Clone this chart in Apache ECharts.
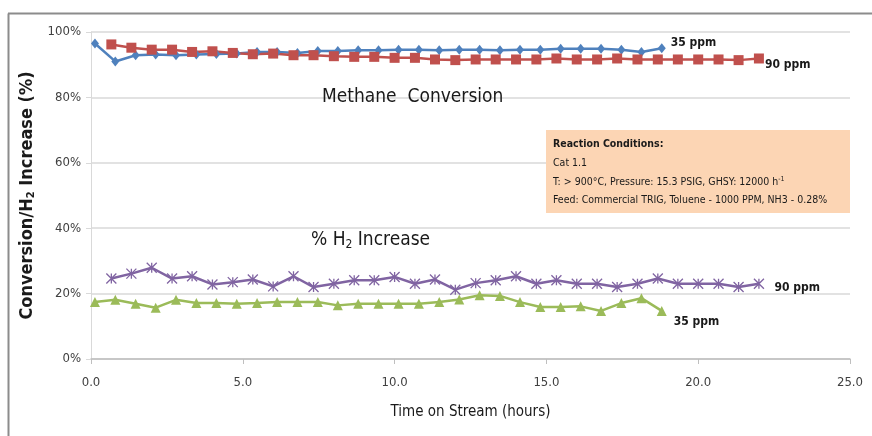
<!DOCTYPE html>
<html>
<head>
<meta charset="utf-8">
<script src="https://cdn.jsdelivr.net/npm/echarts@6/dist/echarts.min.js"></script>
<style>html,body{margin:0;padding:0;background:#fff}#c{width:872px;height:436px}</style>
</head>
<body>
<div id="c"></div>
<script>
// ---- data (time on stream in hours, values in %) ----
var time35 = [0.13, 0.8, 1.47, 2.13, 2.8, 3.47, 4.13, 4.8, 5.47, 6.13, 6.8, 7.47, 8.13, 8.8, 9.47,
  10.13, 10.8, 11.47, 12.13, 12.8, 13.47, 14.13, 14.8, 15.47, 16.13, 16.8, 17.47, 18.13, 18.8];
var time90 = [0.67, 1.33, 2.0, 2.67, 3.33, 4.0, 4.67, 5.33, 6.0, 6.67, 7.33, 8.0, 8.67, 9.33, 10.0,
  10.67, 11.33, 12.0, 12.67, 13.33, 14.0, 14.67, 15.33, 16.0, 16.67, 17.33, 18.0, 18.67, 19.33,
  20.0, 20.67, 21.33, 22.0];
var conv35 = [96.5, 91.0, 92.9, 93.1, 92.9, 93.1, 93.3, 93.4, 93.9, 93.9, 93.6, 94.2, 94.2, 94.4, 94.4,
  94.6, 94.6, 94.4, 94.6, 94.6, 94.4, 94.6, 94.6, 94.9, 94.9, 94.9, 94.6, 93.9, 95.0];
var conv90 = [96.2, 95.2, 94.6, 94.6, 93.9, 94.1, 93.6, 93.2, 93.4, 92.9, 92.9, 92.6, 92.4, 92.4, 92.1,
  92.1, 91.6, 91.4, 91.6, 91.6, 91.6, 91.6, 91.9, 91.6, 91.6, 91.9, 91.6, 91.6, 91.6, 91.6,
  91.6, 91.4, 91.9];
var h2inc90 = [24.6, 26.1, 27.9, 24.6, 25.3, 22.8, 23.5, 24.3, 22.2, 25.3, 22.0, 23.0, 24.1, 24.1, 25.1,
  23.0, 24.3, 21.2, 23.2, 24.1, 25.3, 23.0, 24.1, 23.0, 23.0, 22.0, 23.0, 24.6, 23.0, 23.0,
  23.0, 22.0, 23.0];
var h2inc35 = [17.4, 18.1, 16.9, 15.7, 18.1, 17.1, 17.1, 16.9, 17.1, 17.4, 17.4, 17.4, 16.4, 16.9, 16.9,
  16.9, 16.9, 17.4, 18.2, 19.5, 19.3, 17.4, 15.9, 15.9, 16.1, 14.7, 17.1, 18.6, 14.7];
var seriesNames = ['Conversion 35 ppm', 'Conversion 90 ppm', 'H2 Increase 90 ppm', 'H2 Increase 35 ppm'];
var endLabels = ['35 ppm', '90 ppm', '90 ppm', '35 ppm'];
var xTicks = {min: 0, max: 25, interval: 5};
var yTicks = {min: 0, max: 100, interval: 20};

var FONT = "'Liberation Sans Narrow', 'DejaVu Sans Condensed', 'Liberation Sans', sans-serif";
var BLUE = '#4F81BD', RED = '#C0504D', PURPLE = '#8064A2', GREEN = '#9BBB59';

function build(xs, ys, label, offset) {
  return xs.map(function (x, i) {
    if (i === xs.length - 1) {
      return {value: [x, ys[i]], label: {show: true, position: 'right', formatter: label, offset: offset,
        fontFamily: FONT, fontSize: 12, fontWeight: 'bold', color: '#1a1a1a'}};
    }
    return [x, ys[i]];
  });
}

var chart = echarts.init(document.getElementById('c'), null, {renderer: 'canvas'});
chart.setOption({
  animation: false,
  backgroundColor: '#ffffff',
  grid: {left: 91, right: 22, top: 32, bottom: 77, containLabel: false},
  xAxis: {
    type: 'value', min: xTicks.min, max: xTicks.max, interval: xTicks.interval,
    name: 'Time on Stream (hours)', nameLocation: 'middle', nameGap: 46,
    nameTextStyle: {fontFamily: FONT, fontSize: 15, color: '#1a1a1a'},
    axisLine: {show: true, lineStyle: {color: '#BFBFBF', width: 1.5}},
    axisTick: {show: true, length: 5, lineStyle: {color: '#BFBFBF'}},
    axisLabel: {fontFamily: FONT, fontSize: 13, color: '#404040', margin: 17,
      formatter: function (v) { return v.toFixed(1); }},
    splitLine: {show: false}
  },
  yAxis: {
    type: 'value', min: yTicks.min, max: yTicks.max, interval: yTicks.interval,
    name: '{a|Conversion/H}{s|2}{a| Increase (%)}', nameLocation: 'middle', nameGap: 50, nameRotate: 90,
    nameTextStyle: {rich: {
      a: {fontFamily: FONT, fontSize: 18, fontWeight: 'bold', color: '#1a1a1a'},
      s: {fontFamily: FONT, fontSize: 11, fontWeight: 'bold', color: '#1a1a1a', padding: [8, 0, 0, 0]}
    }},
    axisLine: {show: true, lineStyle: {color: '#D9D9D9', width: 1}},
    axisTick: {show: true, length: 5, lineStyle: {color: '#D9D9D9'}},
    axisLabel: {fontFamily: FONT, fontSize: 13, color: '#404040', margin: 10,
      formatter: '{value}%'},
    splitLine: {show: true, lineStyle: {color: '#D9D9D9', width: 1.5}}
  },
  series: [
    {name: seriesNames[0], type: 'line', data: build(time35, conv35, endLabels[0], [0, -5]),
      symbol: 'diamond', symbolSize: [8, 10], lineStyle: {color: BLUE, width: 2.5},
      itemStyle: {color: BLUE}},
    {name: seriesNames[1], type: 'line', data: build(time90, conv90, endLabels[1], [-4, 6]),
      symbol: 'rect', symbolSize: 10, lineStyle: {color: RED, width: 2.5},
      itemStyle: {color: RED}},
    {name: seriesNames[2], type: 'line', data: build(time90, h2inc90, endLabels[2], [5, 4]),
      symbol: 'path://M0,0L10,10M10,0L0,10M5,0L5,10', symbolSize: 10,
      lineStyle: {color: PURPLE, width: 2.5},
      itemStyle: {color: 'rgba(0,0,0,0)', borderColor: PURPLE, borderWidth: 1.3}},
    {name: seriesNames[3], type: 'line', data: build(time35, h2inc35, endLabels[3], [2, 11]),
      symbol: 'triangle', symbolSize: 10, lineStyle: {color: GREEN, width: 2.5},
      itemStyle: {color: GREEN}}
  ],
  graphic: [
    {type: 'line', shape: {x1: 8.5, y1: 13.5, x2: 8.5, y2: 436}, style: {stroke: '#8c8c8c', lineWidth: 2}, z: 100},
    {type: 'line', shape: {x1: 8, y1: 13.5, x2: 872, y2: 13.5}, style: {stroke: '#8c8c8c', lineWidth: 2}, z: 100},
    {type: 'text', left: 322, top: 88, style: {text: 'Methane  Conversion', fontFamily: FONT, fontSize: 19, fill: '#1a1a1a'}, z: 100},
    {type: 'text', left: 311, top: 231, style: {
      text: '{a|% H}{s|2}{a| Increase}', rich: {
        a: {fontFamily: FONT, fontSize: 19, fill: '#1a1a1a'},
        s: {fontFamily: FONT, fontSize: 12, fill: '#1a1a1a', padding: [9, 0, 0, 0]}
      }}, z: 100},
    {type: 'rect', shape: {x: 546, y: 130, width: 304, height: 83}, style: {fill: '#FCD5B4'}, z: 100},
    {type: 'text', left: 553, top: 139, style: {text: 'Reaction Conditions:', fontFamily: FONT, fontSize: 10.5, fontWeight: 'bold', fill: '#1a1a1a'}, z: 101},
    {type: 'text', left: 553, top: 158, style: {text: 'Cat 1.1', fontFamily: FONT, fontSize: 10.5, fill: '#1a1a1a'}, z: 101},
    {type: 'text', left: 553, top: 176, style: {
      text: '{a|T: > 900°C, Pressure: 15.3 PSIG, GHSY: 12000 h}{u|-1}', rich: {
        a: {fontFamily: FONT, fontSize: 10.5, fill: '#1a1a1a'},
        u: {fontFamily: FONT, fontSize: 7, fill: '#1a1a1a', padding: [0, 0, 5, 0]}
      }}, z: 101},
    {type: 'text', left: 553, top: 195, style: {text: 'Feed: Commercial TRIG, Toluene - 1000 PPM, NH3 - 0.28%', fontFamily: FONT, fontSize: 10.5, fill: '#1a1a1a'}, z: 101}
  ]
});
</script>
</body>
</html>
